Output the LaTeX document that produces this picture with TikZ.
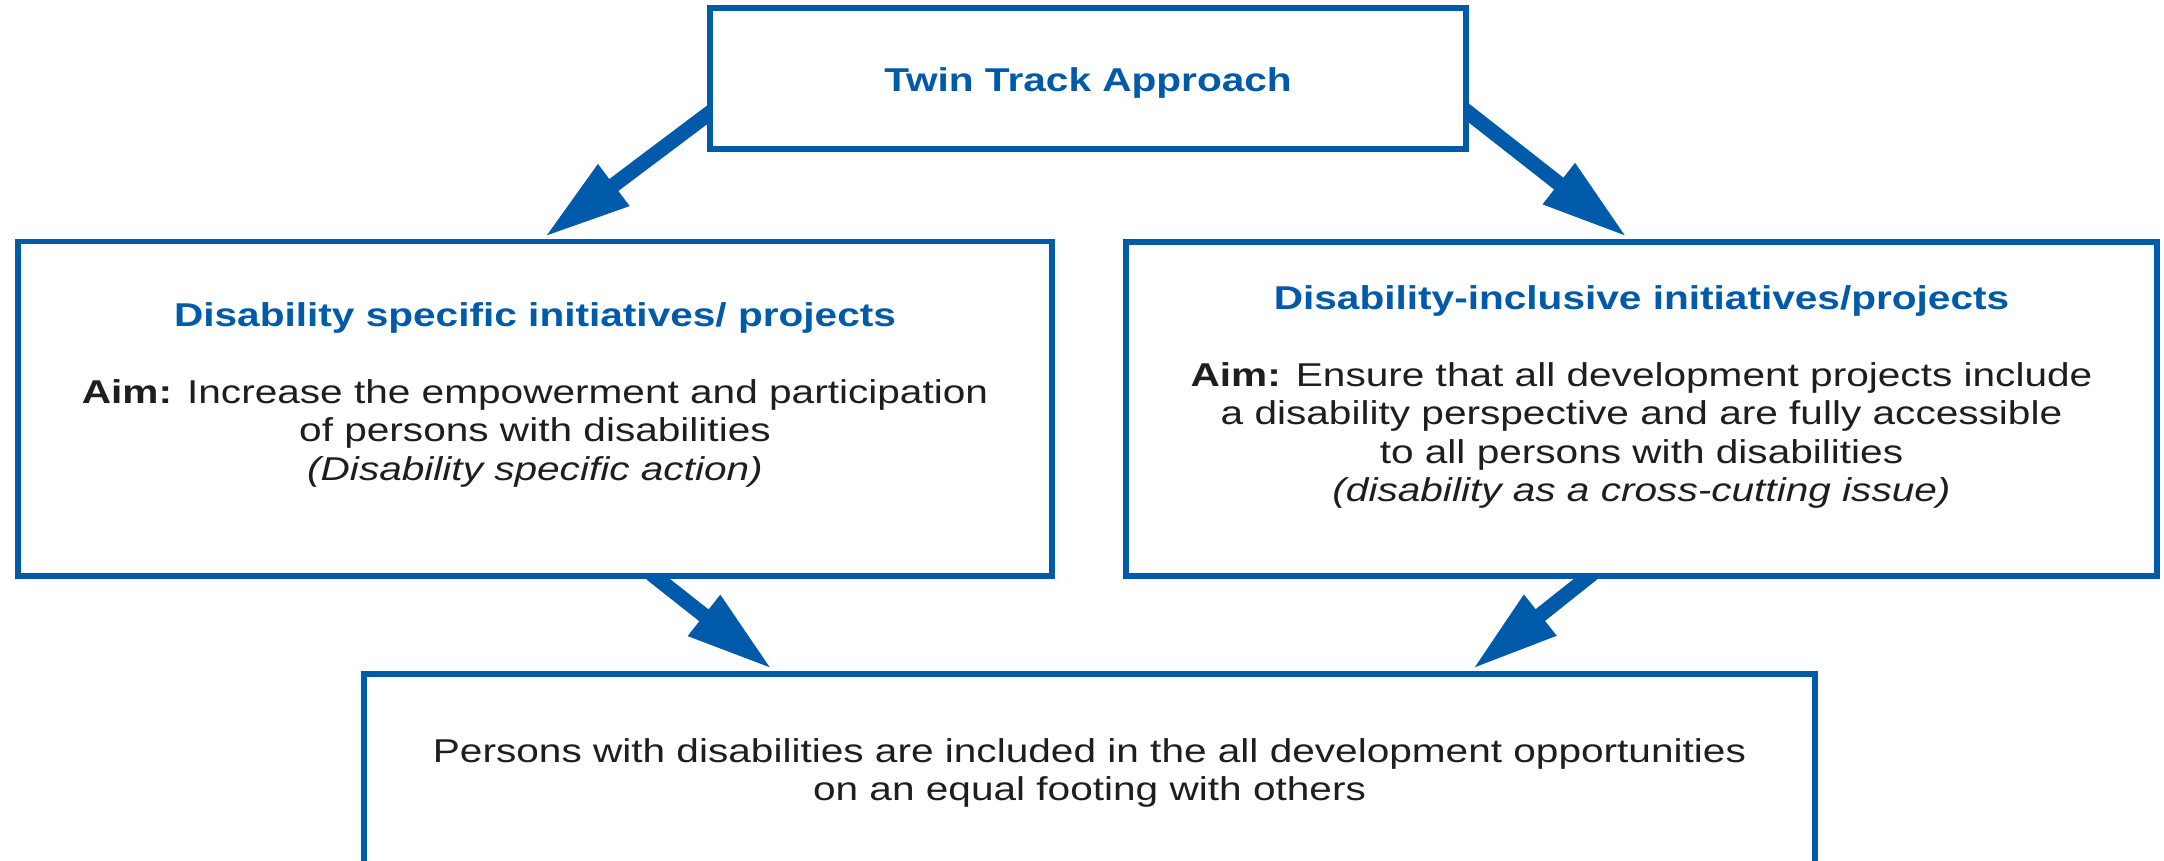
\documentclass[tikz,border=0pt]{standalone}
\usepackage{fontspec}
\setmainfont[FakeStretch=1.23]{Liberation Sans}
\usetikzlibrary{arrows.meta}
\definecolor{tblue}{RGB}{0,90,170}
\definecolor{ttext}{RGB}{30,30,30}
\pgfdeclarelayer{bg}
\pgfsetlayers{bg,main}
\begin{document}
\begin{tikzpicture}[x=1pt,y=-1pt,
  box/.style={draw=tblue, line width=5.5pt, fill=white, rectangle, inner sep=0pt},
  txt/.style={inner sep=0pt, anchor=north, align=center, font=\fontsize{33}{38.5}\selectfont, text=ttext},
  arr/.style={draw=tblue, line width=15pt, -{Triangle[length=87pt,width=48pt]}}]
\useasboundingbox (0,0) rectangle (2164,860);
\clip (0,0) rectangle (2164,860);
% boxes
\node[box, minimum width=756pt, minimum height=141pt] (top) at (1088,78.5) {};
\node[box, minimum width=1034pt, minimum height=334.5pt] (left) at (535,408.75) {};
\node[box, minimum width=1031pt, minimum height=334pt] (right) at (1641.5,409) {};
\node[box, minimum width=1451pt, minimum height=226pt] (bottom) at (1089.5,787) {};
% texts
\node[txt] (toptext) at (1088,67) {\textcolor{tblue}{\bfseries Twin Track Approach}};
\node[txt] (lefttext) at (535,302) {\textcolor{tblue}{\bfseries Disability specific initiatives/ projects}\\[38.5pt]
  \textbf{Aim:} Increase the empowerment and participation\\
  of persons with disabilities\\
  \textit{(Disability specific action)}};
\node[txt] (righttext) at (1641.5,285) {\textcolor{tblue}{\bfseries Disability-inclusive initiatives/projects}\\[38.5pt]
  \textbf{Aim:} Ensure that all development projects include\\
  a disability perspective and are fully accessible\\
  to all persons with disabilities\\
  \textit{(disability as a cross-cutting issue)}};
\node[txt] (bottomtext) at (1089.5,738) {Persons with disabilities are included in the all development opportunities\\
  on an equal footing with others};
% connector end points
\coordinate (a1s) at ([xshift=8pt,yshift=43pt]top.south west);
\coordinate (a1e) at ([xshift=529pt,yshift=1.5pt]left.north west);
\coordinate (a2s) at ([xshift=-8pt,yshift=45pt]top.south east);
\coordinate (a2e) at ([xshift=504pt,yshift=2pt]right.north west);
\coordinate (a3s) at ([xshift=636pt,yshift=5pt]left.south west);
\coordinate (a3e) at ([xshift=411pt,yshift=2pt]bottom.north west);
\coordinate (a4s) at ([xshift=469pt,yshift=5pt]right.south west);
\coordinate (a4e) at ([xshift=1111pt,yshift=2pt]bottom.north west);
\begin{pgfonlayer}{bg}
\draw[arr] (a1s) -- (a1e);
\draw[arr] (a2s) -- (a2e);
\draw[arr] (a3s) -- (a3e);
\draw[arr] (a4s) -- (a4e);
\end{pgfonlayer}
\end{tikzpicture}
\end{document}
